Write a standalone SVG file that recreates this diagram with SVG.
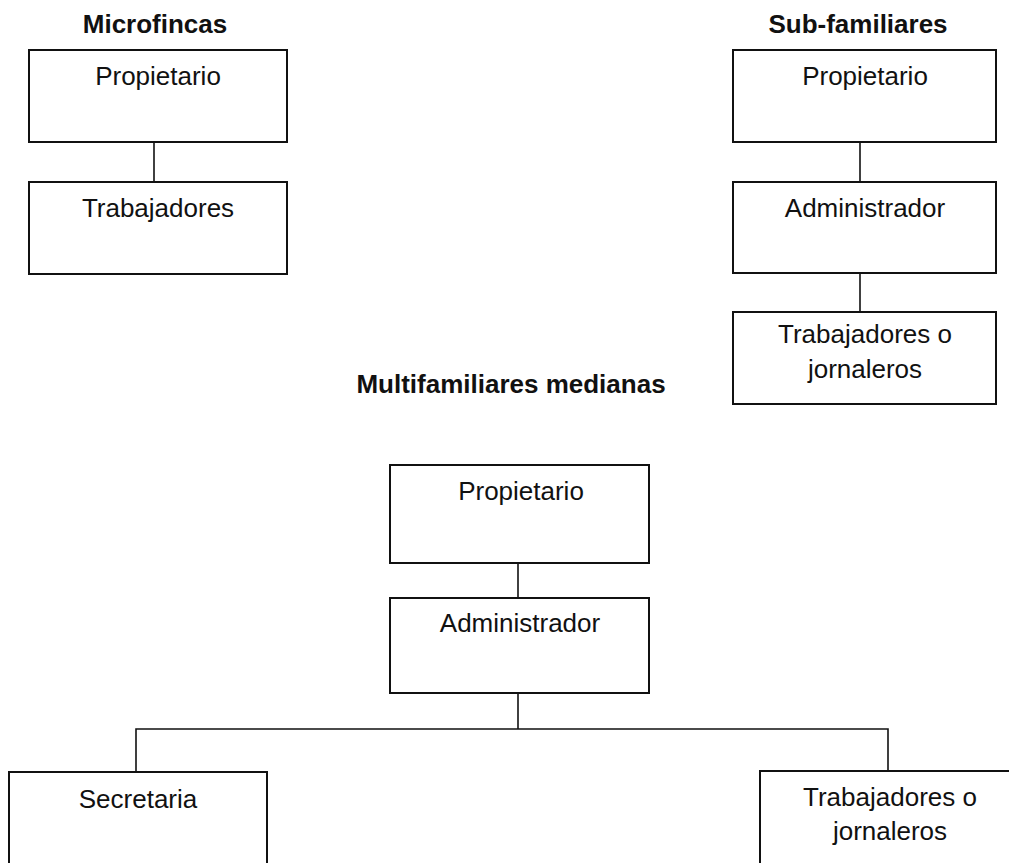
<svg xmlns="http://www.w3.org/2000/svg" width="1009" height="863" viewBox="0 0 1009 863">
<style>
.box{fill:#fff;stroke:#111;stroke-width:2}
.lbl{font-family:"Liberation Sans",Arial,sans-serif;font-size:26px;fill:#111;text-anchor:middle}
.ttl{font-family:"Liberation Sans",Arial,sans-serif;font-size:26px;font-weight:bold;fill:#111;text-anchor:middle}
.con{fill:none;stroke:#111;stroke-width:1.6}
</style>
<rect x="0" y="0" width="1009" height="863" fill="#fff"/>
<g id="titles">
<text class="ttl" x="155" y="33">Microfincas</text>
<text class="ttl" x="858" y="33">Sub-familiares</text>
<text class="ttl" x="511" y="393">Multifamiliares medianas</text>
</g>
<g id="connectors">
<line class="con" x1="154" y1="142" x2="154" y2="182"/>
<line class="con" x1="860" y1="142" x2="860" y2="182"/>
<line class="con" x1="860" y1="273" x2="860" y2="312"/>
<line class="con" x1="518" y1="563" x2="518" y2="598"/>
<polyline class="con" points="518,693 518,729"/>
<polyline class="con" points="136,772 136,729 888,729 888,771"/>
</g>
<g id="micro-propietario">
<rect class="box" x="29" y="50" width="258" height="92"/>
<text class="lbl" x="158" y="85">Propietario</text>
</g>
<g id="micro-trabajadores">
<rect class="box" x="29" y="182" width="258" height="92"/>
<text class="lbl" x="158" y="217">Trabajadores</text>
</g>
<g id="sub-propietario">
<rect class="box" x="733" y="50" width="263" height="92"/>
<text class="lbl" x="865" y="85">Propietario</text>
</g>
<g id="sub-administrador">
<rect class="box" x="733" y="182" width="263" height="91"/>
<text class="lbl" x="865" y="217">Administrador</text>
</g>
<g id="sub-trabajadores">
<rect class="box" x="733" y="312" width="263" height="92"/>
<text class="lbl" x="865" y="343">Trabajadores o</text>
<text class="lbl" x="865" y="378">jornaleros</text>
</g>
<g id="multi-propietario">
<rect class="box" x="390" y="465" width="259" height="98"/>
<text class="lbl" x="521" y="500">Propietario</text>
</g>
<g id="multi-administrador">
<rect class="box" x="390" y="598" width="259" height="95"/>
<text class="lbl" x="520" y="632">Administrador</text>
</g>
<g id="multi-secretaria">
<rect class="box" x="9" y="772" width="258" height="110"/>
<text class="lbl" x="138" y="808">Secretaria</text>
</g>
<g id="multi-trabajadores">
<rect class="box" x="760" y="771" width="260" height="110"/>
<text class="lbl" x="890" y="806">Trabajadores o</text>
<text class="lbl" x="890" y="840">jornaleros</text>
</g>
</svg>
